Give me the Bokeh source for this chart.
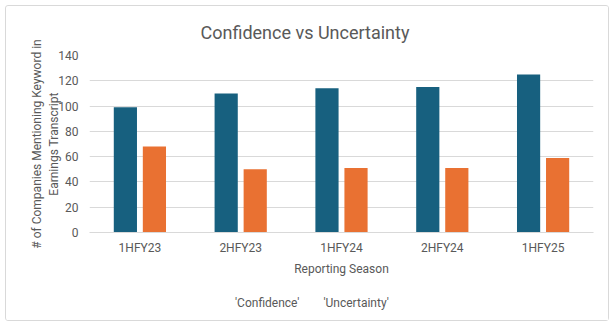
from bokeh.plotting import figure
from bokeh.models import Legend, LegendItem, FactorRange, LinearAxis, FixedTicker
from bokeh.layouts import column
from bokeh.transform import dodge
from bokeh.embed import file_html
from bokeh.resources import INLINE

seasons = ["1HFY23", "2HFY23", "1HFY24", "2HFY24", "1HFY25"]
confidence = [99, 110, 114, 115, 125]
uncertainty = [68, 50, 51, 51, 59]
y_ticks = [0, 20, 40, 60, 80, 100, 120, 140]
y_label_lines = ["Earnings Transcript", "# of Companies Mentioning Keyword in"]
series_names = ["'Confidence'", "'Uncertainty'"]

BLUE = "#17607f"
ORANGE = "#e97132"
TXT = "#595959"
GRID = "#d9d9d9"
FONT = "Roboto"

p = figure(frame_width=504, frame_height=177, x_range=FactorRange(*seasons), y_range=(0, 140),
           output_backend="svg", toolbar_location=None,
           title="Confidence vs Uncertainty",
           min_border_left=83, min_border_right=15, min_border_top=49, min_border_bottom=52)
p.outline_line_color = None
p.background_fill_color = "white"
p.border_fill_color = "white"
p.x_range.range_padding = 0

p.title.text_font = FONT
p.title.text_font_size = "18px"
p.title.text_font_style = "normal"
p.title.text_color = TXT
p.title.align = "left"
p.title.offset = 111
p.title.standoff = 26

src = dict(s=seasons, c=confidence, u=uncertainty)
r1 = p.vbar(x=dodge("s", -0.144, range=p.x_range), top="c", width=0.23, source=src,
            fill_color=BLUE, line_color=None)
r2 = p.vbar(x=dodge("s", 0.144, range=p.x_range), top="u", width=0.23, source=src,
            fill_color=ORANGE, line_color=None)

p.yaxis.ticker = y_ticks
p.yaxis.axis_line_color = None
p.yaxis.major_tick_line_color = None
p.yaxis.minor_tick_line_color = None
p.yaxis.major_tick_out = 0
p.yaxis.major_tick_in = 0
p.yaxis.major_label_text_font = FONT
p.yaxis.major_label_text_font_size = "12px"
p.yaxis.major_label_text_color = TXT
p.yaxis.major_label_standoff = 11

for i, line in enumerate(y_label_lines):
    ax = LinearAxis(ticker=FixedTicker(ticks=[]), axis_label=line,
                    axis_line_color=None, major_tick_line_color=None,
                    minor_tick_line_color=None, major_tick_out=0, major_tick_in=0,
                    major_label_standoff=0, major_label_text_font_size="0px",
                    axis_label_text_font=FONT, axis_label_text_font_size="12px",
                    axis_label_text_font_style="normal", axis_label_text_color=TXT,
                    axis_label_standoff=-5 if i == 0 else 0)
    p.add_layout(ax, "left")

p.xaxis.axis_line_color = GRID
p.xaxis.major_tick_line_color = None
p.xaxis.minor_tick_line_color = None
p.xaxis.major_tick_out = 0
p.xaxis.major_label_text_font = FONT
p.xaxis.major_label_text_font_size = "12px"
p.xaxis.major_label_text_color = TXT
p.xaxis.major_label_standoff = 8
p.xaxis.axis_label = "Reporting Season"
p.xaxis.axis_label_text_font = FONT
p.xaxis.axis_label_text_font_size = "12px"
p.xaxis.axis_label_text_font_style = "normal"
p.xaxis.axis_label_text_color = TXT
p.xaxis.axis_label_standoff = 4

p.xgrid.grid_line_color = None
p.ygrid.grid_line_color = GRID
p.ygrid.ticker = y_ticks

# legend strip below the chart
lf = figure(width=602, height=36, output_backend="svg", toolbar_location=None,
            x_range=(0, 1), y_range=(0, 1),
            x_axis_location=None, y_axis_location=None, min_border=0)
lf.outline_line_color = None
lf.grid.visible = False
lf.background_fill_color = "white"
lf.border_fill_color = "white"
g1 = lf.vbar(x=[], top=[], width=1, fill_color=BLUE, line_color=None)
g2 = lf.vbar(x=[], top=[], width=1, fill_color=ORANGE, line_color=None)

legend = Legend(items=[LegendItem(label=series_names[0], renderers=[g1]),
                       LegendItem(label=series_names[1], renderers=[g2])],
                orientation="horizontal", location=(137, 10),
                glyph_width=7, glyph_height=7, label_text_font=FONT,
                label_text_font_size="12px", label_text_color=TXT,
                border_line_color=None, background_fill_alpha=0,
                spacing=15, label_standoff=2, padding=0, margin=0)
lf.add_layout(legend)

layout = column(p, lf, margin=(5, 0, 0, 5),
                styles={"border": "1px solid #d9d9d9", "border-radius": "3px"})

open("out.html", "w").write(file_html(layout, INLINE))
